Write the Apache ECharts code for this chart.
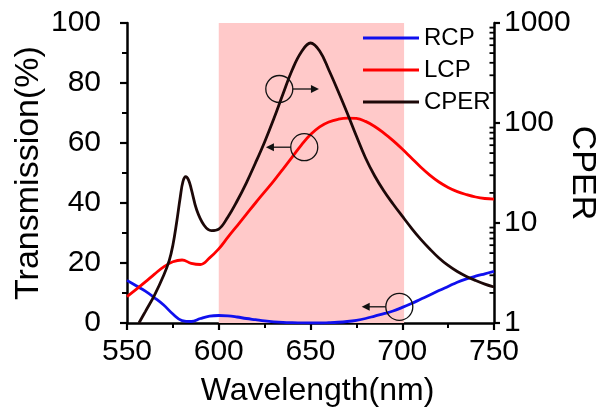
<!DOCTYPE html>
<html><head><meta charset="utf-8">
<script src="https://cdn.jsdelivr.net/npm/echarts@6/dist/echarts.min.js"></script>
<style>html,body{margin:0;padding:0;background:#fff}#c{width:596px;height:410px}</style>
</head><body><div id="c"></div>
<script>
// ---- data ----
const wavelengths = [550,555,560,565,570,575,580,585,590,595,600,605,610,615,620,625,630,635,640,645,650,655,660,665,670,675,680,685,690,695,700,705,710,715,720,725,730,735,740,745,750];
const rcp = [14.2,12.4,10.6,8.4,6.0,3.0,0.8,0.5,1.5,2.3,2.5,2.4,2.0,1.5,1.1,0.7,0.4,0.2,0.1,0.05,0.0,0.0,0.1,0.25,0.5,0.9,1.5,2.3,3.1,4.0,5.2,6.5,7.9,9.3,10.8,12.2,13.6,14.7,15.6,16.4,17.2];
const lcp = [8.8,11.2,13.7,16.3,18.7,20.4,21.0,19.9,19.5,21.7,24.7,28.6,32.4,36.2,40.0,43.7,47.4,51.3,55.3,59.3,62.8,65.4,67.0,67.9,68.3,68.2,67.2,65.5,63.3,60.8,58.0,55.0,52.0,49.3,47.0,45.2,43.8,42.8,42.0,41.5,41.3];
const cperWavelengths = [556.5,560,565,570,573,575,577,579,580.5,582,583.5,585,588,592,596,600,605,610,615,620,625,630,635,640,645,650,655,660,665,670,675,680,685,690,695,700,705,710,715,720,725,730,735,740,745,750];
const cper = [1.0,1.3,1.9,3.0,4.2,6.0,10,18,26,29,27,22,13.5,9.5,8.4,8.7,11.5,16.6,25.1,39.8,64.6,110,195,339,513,631,525,339,209,126,74.1,44.7,29.5,20.9,15.5,11.7,8.9,6.9,5.5,4.47,3.76,3.27,2.92,2.66,2.45,2.29];
const seriesNames = ['RCP','LCP','CPER'];
const shadedRange = [600, 701];
const shadedTop = 101.3;
// annotation markers: circle centre (wavelength, transmission) and arrow tip wavelength
const annotations = [
  {wl: 633.0, t: 78.0, tipWl: 654.6},
  {wl: 646.6, t: 58.6, tipWl: 625.7},
  {wl: 698.4, t: 5.4, tipWl: 677.9}
];

const FONT = 'Arial, "Liberation Sans", Helvetica, sans-serif';
const pair = (xs, ys) => xs.map((x, i) => [x, ys[i]]);
const chart = echarts.init(document.getElementById('c'), null, {renderer: 'canvas'});

const axisCommon = {
  axisLine: {show: true, onZero: false, lineStyle: {color: '#000', width: 2.5}},
  axisTick: {show: true, length: 7, lineStyle: {color: '#000', width: 2.2}},
  splitLine: {show: false},
  axisLabel: {color: '#000', fontSize: 30, fontFamily: FONT},
  nameTextStyle: {color: '#000', fontFamily: FONT}
};

const option = {
  animation: false,
  backgroundColor: '#fff',
  textStyle: {fontFamily: FONT},
  grid: {left: 127, right: 102, top: 23, bottom: 87, containLabel: false, outerBoundsMode: 'none'},
  legend: {
    orient: 'vertical', left: 358, top: 21, itemGap: 8,
    icon: 'rect', itemWidth: 56, itemHeight: 3,
    textStyle: {fontSize: 24, lineHeight: 22, color: '#000', fontFamily: FONT},
    data: seriesNames
  },
  xAxis: Object.assign({}, axisCommon, {
    type: 'value', min: 550, max: 750, interval: 50,
    minorTick: {show: true, splitNumber: 2, length: 5, lineStyle: {color: '#000', width: 2}},
    axisLabel: Object.assign({}, axisCommon.axisLabel, {margin: 14}),
    name: 'Wavelength(nm)', nameLocation: 'middle', nameGap: 52, nameMoveOverlap: false,
    nameTextStyle: {color: '#000', fontFamily: FONT, fontSize: 32, padding: [0, 0, 0, 14]}
  }),
  yAxis: [
    Object.assign({}, axisCommon, {
      type: 'value', min: 0, max: 100, interval: 20,
      minorTick: {show: true, splitNumber: 2, length: 5, lineStyle: {color: '#000', width: 2}},
      axisLabel: Object.assign({}, axisCommon.axisLabel, {margin: 26}),
      name: 'Transmission(%)', nameLocation: 'middle', nameGap: 81, nameRotate: 90, nameMoveOverlap: false,
      nameTextStyle: {color: '#000', fontFamily: FONT, fontSize: 34}
    }),
    Object.assign({}, axisCommon, {
      type: 'log', logBase: 10, min: 1, max: 1000, position: 'right',
      axisTick: {show: true, length: 6, lineStyle: {color: '#000', width: 2.2}},
      axisLabel: Object.assign({}, axisCommon.axisLabel, {margin: 10, formatter: v => String(v)}),
      name: 'CPER', nameLocation: 'middle', nameGap: 71, nameRotate: -90, nameMoveOverlap: false,
      nameTextStyle: {color: '#000', fontFamily: FONT, fontSize: 34}
    })
  ],
  series: [
    {name: 'RCP', type: 'line', data: pair(wavelengths, rcp), symbol: 'none', smooth: 0.4,
     lineStyle: {color: '#1010ee', width: 2.8}, itemStyle: {color: '#1010ee'}, z: 3},
    {name: 'LCP', type: 'line', data: pair(wavelengths, lcp), symbol: 'none', smooth: 0.4,
     lineStyle: {color: '#ff0000', width: 2.8}, itemStyle: {color: '#ff0000'}, z: 3,
     markArea: {silent: true, itemStyle: {color: '#ffc9c9'},
       data: [[{xAxis: shadedRange[0], yAxis: 0}, {xAxis: shadedRange[1], yAxis: shadedTop}]]}},
    {name: 'CPER', type: 'line', yAxisIndex: 1, data: pair(cperWavelengths, cper), symbol: 'none', smooth: 0.4,
     lineStyle: {color: '#1c0808', width: 2.8}, itemStyle: {color: '#1c0808'}, z: 4}
  ]
};
chart.setOption(option);

// decorations: log minor ticks (inward) and annotation circles/arrows
const graphics = [];
const xRight = chart.convertToPixel({xAxisIndex: 0}, 750);
for (let d = 1; d <= 100; d *= 10) {
  for (let k = 2; k <= 9; k++) {
    const py = chart.convertToPixel({yAxisIndex: 1}, k * d);
    graphics.push({type: 'line', shape: {x1: xRight - 4.5, y1: py, x2: xRight, y2: py},
      style: {stroke: '#000', lineWidth: 1.8}, z: 10, silent: true});
  }
}
const R = 13.5;
annotations.forEach(a => {
  const cx = chart.convertToPixel({xAxisIndex: 0}, a.wl);
  const cy = chart.convertToPixel({yAxisIndex: 0}, a.t);
  const tx = chart.convertToPixel({xAxisIndex: 0}, a.tipWl);
  const dir = tx > cx ? 1 : -1;
  graphics.push({type: 'circle', shape: {cx: cx, cy: cy, r: R},
    style: {fill: null, stroke: '#111', lineWidth: 1.3}, z: 10, silent: true});
  graphics.push({type: 'line', shape: {x1: cx + dir * R, y1: cy, x2: tx - dir * 6, y2: cy},
    style: {stroke: '#111', lineWidth: 1.3}, z: 10, silent: true});
  graphics.push({type: 'polygon', shape: {points: [[tx, cy], [tx - dir * 8, cy - 4], [tx - dir * 8, cy + 4]]},
    style: {fill: '#111'}, z: 10, silent: true});
});
chart.setOption({graphic: graphics});
</script></body></html>
